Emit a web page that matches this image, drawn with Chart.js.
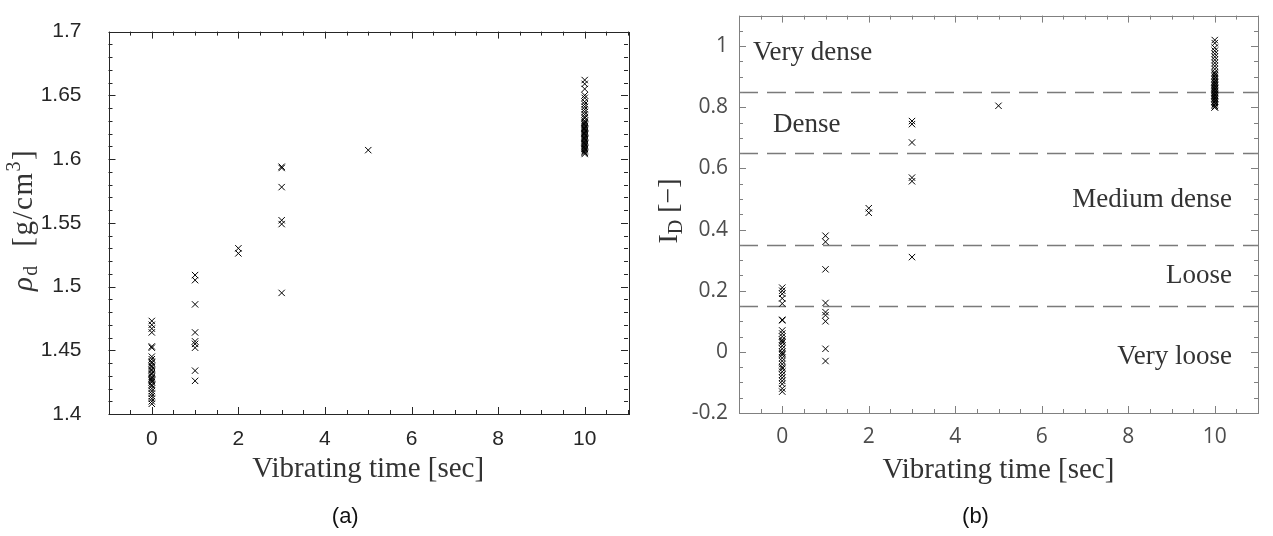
<!DOCTYPE html>
<html><head><meta charset="utf-8">
<script src="https://cdn.jsdelivr.net/npm/chart.js@4.4.1/dist/chart.umd.min.js"></script>
<style>
html,body{margin:0;padding:0;background:#fff;}
#wrap{position:relative;width:1273px;height:536px;overflow:hidden;background:#fff;}
.c{position:absolute;top:0;height:536px;}
</style></head><body>
<div id="wrap">
<div class="c" style="left:0;width:636px"><canvas id="ca"></canvas></div>
<div class="c" style="left:636px;width:637px"><canvas id="cb"></canvas></div>
</div>
<script>
// ---- data ----
const vibTimes = [0, 1, 2, 3, 5, 10];

// (a) dry density rho_d [g/cm3]
const rhoT0 = [1.473,1.470,1.467,1.464,1.453,1.452,1.445,1.443,1.441,1.440,1.438,1.437,1.435,1.434,1.432,1.431,1.429,1.428,1.427,1.426,1.425,1.423,1.422,1.420,1.418,1.416,1.414,1.412,1.410,1.408];
const rhoT1 = [1.509,1.505,1.486,1.464,1.457,1.455,1.452,1.434,1.426];
const rhoT2 = [1.530,1.526];
const rhoT3 = [1.594,1.593,1.578,1.552,1.549,1.495];
const rhoT5 = [1.607];
const rhoT10 = [1.662,1.659,1.655,1.650,1.648,1.645,1.643,1.641,1.639,1.637,1.635,1.633,1.632,1.630,1.629,1.628,1.627,1.626,1.625,1.624,1.624,1.623,1.622,1.621,1.620,1.620,1.619,1.618,1.617,1.616,1.616,1.615,1.614,1.613,1.612,1.612,1.611,1.610,1.609,1.608,1.608,1.607,1.606,1.605,1.604];

// (b) relative density I_D [-]
const idT0 = [0.210,0.200,0.190,0.175,0.158,0.105,0.103,0.070,0.060,0.050,0.040,0.035,0.030,0.020,0.010,0.000,-0.005,-0.010,-0.020,-0.030,-0.040,-0.050,-0.055,-0.065,-0.075,-0.085,-0.095,-0.105,-0.120,-0.130];
const idT1 = [0.380,0.360,0.270,0.160,0.130,0.120,0.100,0.010,-0.030];
const idT2 = [0.470,0.455];
const idT3 = [0.755,0.745,0.685,0.570,0.558,0.310];
const idT5 = [0.805];
const idT10 = [1.020,1.010,0.995,0.985,0.975,0.965,0.955,0.945,0.935,0.925,0.915,0.910,0.905,0.900,0.895,0.890,0.885,0.880,0.880,0.875,0.870,0.870,0.865,0.860,0.860,0.860,0.855,0.850,0.850,0.845,0.840,0.840,0.840,0.835,0.830,0.830,0.830,0.825,0.820,0.820,0.815,0.810,0.805,0.800,0.800];

// tick labels
const xTickLabels = [0, 2, 4, 6, 8, 10];
const yTicksA = [1.4, 1.45, 1.5, 1.55, 1.6, 1.65, 1.7];
const yTicksB = [-0.2, 0, 0.2, 0.4, 0.6, 0.8, 1];

// density class boundaries and names
const classBounds = [0.15, 0.35, 0.65, 0.85];
const classNames = ['Very dense', 'Dense', 'Medium dense', 'Loose', 'Very loose'];
</script>
<script>
Chart.defaults.animation = false;

function toPoints(groups) {
  const pts = [];
  groups.forEach((vals, i) => vals.forEach(v => pts.push({x: vibTimes[i], y: v})));
  return pts;
}
const ptsA = toPoints([rhoT0, rhoT1, rhoT2, rhoT3, rhoT5, rhoT10]);
const ptsB = toPoints([idT0, idT1, idT2, idT3, idT5, idT10]);

const SERIF = '"Liberation Serif", "Times New Roman", serif';

function drawYTitle(ctx, cx, cy, parts, spacing) {
  ctx.save();
  ctx.translate(cx, cy);
  ctx.rotate(-Math.PI / 2);
  if ('letterSpacing' in ctx) ctx.letterSpacing = spacing + 'px';
  let total = 0;
  parts.forEach(p => { ctx.font = p.font; p.w = ctx.measureText(p.text).width; total += p.w; });
  let x = -total / 2;
  ctx.textBaseline = 'alphabetic';
  ctx.textAlign = 'left';
  parts.forEach(p => { ctx.font = p.font; ctx.fillStyle = p.color; ctx.fillText(p.text, x, 9 + (p.dy || 0)); x += p.w; });
  ctx.restore();
}

function framePlugin(cfg) {
  return {
    id: 'frame',
    beforeDatasetsDraw(chart) {
      const ctx = chart.ctx, a = chart.chartArea, ys = chart.scales.y;
      if (cfg.dashed) {
        ctx.save();
        ctx.strokeStyle = '#7a7a7a';
        ctx.lineWidth = 1.4;
        ctx.setLineDash([19, 9]);
        cfg.dashed.forEach(v => {
          const y = Math.round(ys.getPixelForValue(v)) + 0.5;
          ctx.beginPath(); ctx.moveTo(a.left, y); ctx.lineTo(a.right, y); ctx.stroke();
        });
        ctx.restore();
      }
      if (cfg.regions) {
        ctx.save();
        ctx.font = '27px ' + SERIF;
        ctx.fillStyle = '#333';
        ctx.textBaseline = 'middle';
        cfg.regions.forEach(r => {
          const y = ys.getPixelForValue(r.y);
          if (r.align === 'left') { ctx.textAlign = 'left'; ctx.fillText(r.text, a.left + r.off, y); }
          else { ctx.textAlign = 'right'; ctx.fillText(r.text, a.right - r.off, y); }
        });
        ctx.restore();
      }
    },
    afterDatasetsDraw(chart) {
      const ctx = chart.ctx, a = chart.chartArea, xs = chart.scales.x, ys = chart.scales.y;
      ctx.save();
      ctx.strokeStyle = cfg.axisColor;
      ctx.lineWidth = 1;
      ctx.strokeRect(Math.round(a.left) + 0.5, Math.round(a.top) + 0.5, Math.round(a.right - a.left), Math.round(a.bottom - a.top));
      const xn = Math.round((xs.max - xs.min) / cfg.xMinor);
      for (let i = 0; i <= xn; i++) {
        const v = xs.min + i * cfg.xMinor;
        const major = Math.abs(v / 2 - Math.round(v / 2)) < 1e-6;
        const L = major ? 7 : 4;
        const x = Math.round(xs.getPixelForValue(v)) + 0.5;
        ctx.beginPath();
        ctx.moveTo(x, a.bottom); ctx.lineTo(x, a.bottom - L);
        ctx.moveTo(x, a.top); ctx.lineTo(x, a.top + L);
        ctx.stroke();
      }
      const yn = Math.round((ys.max - ys.min) / cfg.yMinor);
      for (let i = 0; i <= yn; i++) {
        const v = ys.min + i * cfg.yMinor;
        const r = v / cfg.yMajor;
        const major = Math.abs(r - Math.round(r)) < 1e-6;
        const L = major ? 7 : 4;
        const y = Math.round(ys.getPixelForValue(v)) + 0.5;
        ctx.beginPath();
        ctx.moveTo(a.left, y); ctx.lineTo(a.left + L, y);
        ctx.moveTo(a.right, y); ctx.lineTo(a.right - L, y);
        ctx.stroke();
      }
      ctx.restore();
    },
    afterDraw(chart) {
      const ctx = chart.ctx, a = chart.chartArea;
      ctx.save();
      ctx.fillStyle = '#333';
      ctx.font = '29px ' + SERIF;
      ctx.textAlign = 'center';
      ctx.textBaseline = 'middle';
      ctx.fillText('Vibrating time [sec]', (a.left + a.right) / 2, cfg.xTitleY);
      ctx.fillStyle = '#111';
      ctx.font = '22px "Liberation Sans", Arial, sans-serif';
      ctx.fillText(cfg.caption, (a.left + a.right) / 2 - 23, 517);
      ctx.restore();
      drawYTitle(ctx, cfg.yTitleX, cfg.yTitleY, cfg.yTitle, cfg.ySpacing);
    }
  };
}

function makeChart(id, pts, o) {
  return new Chart(document.getElementById(id), {
    type: 'scatter',
    data: { datasets: [{ data: pts, pointStyle: 'crossRot', pointRadius: 4.5, pointBorderWidth: 1,
      borderColor: '#000', backgroundColor: '#000', pointHoverRadius: 4.5 }] },
    options: {
      responsive: true, maintainAspectRatio: false, devicePixelRatio: 1,
      layout: { padding: o.padding },
      plugins: { legend: { display: false }, tooltip: { enabled: false } },
      events: [],
      scales: {
        x: {
          type: 'linear', min: -1, max: 11,
          grid: { display: false }, border: { display: false },
          afterBuildTicks: s => { s.ticks = xTickLabels.map(v => ({ value: v })); },
          afterFit: s => { s.height = o.xHeight; },
          ticks: { color: o.tickColor, font: o.tickFont, padding: o.xPad, maxRotation: 0,
            callback: v => String(+(+v).toFixed(2)) }
        },
        y: {
          type: 'linear', min: o.yMin, max: o.yMax,
          grid: { display: false }, border: { display: false },
          afterBuildTicks: s => { s.ticks = o.yTicks.map(v => ({ value: v })); },
          afterFit: s => { s.width = o.yWidth; },
          ticks: { color: o.tickColor, font: o.tickFont, padding: o.yPad,
            callback: v => String(+(+v).toFixed(2)) }
        }
      }
    },
    plugins: [framePlugin(o.frame)]
  });
}

makeChart('ca', ptsA, {
  padding: { left: 0, right: 8, top: 15.5, bottom: 0 },
  xHeight: 122, yWidth: 108.5, yMin: 1.4, yMax: 1.7, yTicks: yTicksA,
  tickColor: '#262626', tickFont: { family: '"Liberation Sans", Arial, sans-serif', size: 21 },
  xPad: 5, yPad: 19,
  frame: { axisColor: '#262626', xMinor: 0.5, yMinor: 0.01, yMajor: 0.05, caption: '(a)', xTitleY: 469,
    yTitleX: 23, yTitleY: 220, ySpacing: 1.5,
    yTitle: [
      { text: 'ρ', font: 'italic 29px ' + SERIF, color: '#333' },
      { text: 'd', font: '20px ' + SERIF, color: '#333', dy: 5 },
      { text: '  [g/cm', font: '29px ' + SERIF, color: '#333' },
      { text: '3', font: '20px ' + SERIF, color: '#333', dy: -12 },
      { text: ']', font: '29px ' + SERIF, color: '#333' }
    ] }
});

makeChart('cb', ptsB, {
  padding: { left: 0, right: 15, top: 15, bottom: 0 },
  xHeight: 123, yWidth: 103, yMin: -0.2, yMax: 1.1, yTicks: yTicksB,
  tickColor: '#4d4d4d', tickFont: { family: '"Open Sans", "Noto Sans", sans-serif', size: 21 },
  xPad: 3, yPad: 3,
  frame: { axisColor: '#808080', xMinor: 0.5, yMinor: 0.05, yMajor: 0.2, caption: '(b)', xTitleY: 470,
    yTitleX: 32, yTitleY: 211, ySpacing: 0,
    dashed: classBounds,
    regions: [
      { text: classNames[0], y: 0.979, align: 'left', off: 14 },
      { text: classNames[1], y: 0.741, align: 'left', off: 34 },
      { text: classNames[2], y: 0.496, align: 'right', off: 26 },
      { text: classNames[3], y: 0.247, align: 'right', off: 26 },
      { text: classNames[4], y: -0.017, align: 'right', off: 26 }
    ],
    yTitle: [
      { text: 'I', font: '28px ' + SERIF, color: '#333' },
      { text: 'D', font: '20px ' + SERIF, color: '#333', dy: 5 },
      { text: ' [−]', font: '28px ' + SERIF, color: '#333' }
    ] }
});
</script>
</body></html>
